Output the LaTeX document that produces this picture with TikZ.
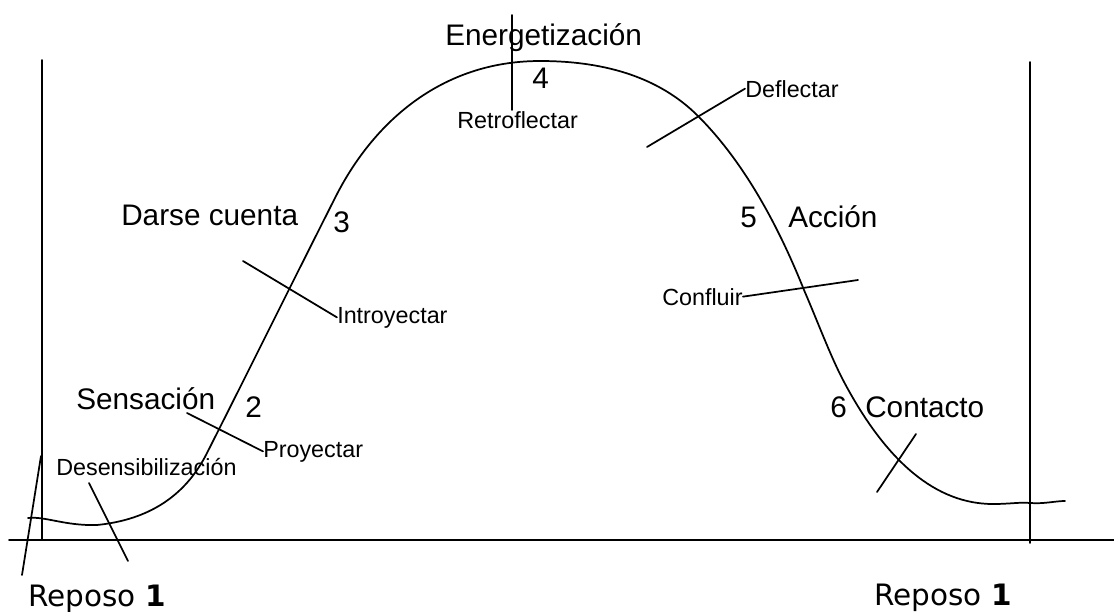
\documentclass[tikz,border=0pt]{standalone}
\usepackage{fontspec}
\setmainfont{Liberation Sans}
\newfontfamily\vfont{DejaVu Sans}
\begin{document}
\begin{tikzpicture}[x=0.75pt,y=-0.75pt,
  ln/.style={line width=1.3pt, line cap=round, line join=round},
  big/.style={anchor=base west, inner sep=0pt, font=\fontsize{22.3}{26}\selectfont},
  small/.style={anchor=base west, inner sep=0pt, font=\fontsize{17.5}{21}\selectfont},
  rep/.style={anchor=base west, inner sep=0pt, font=\vfont\fontsize{22.1}{26}\selectfont}]
\useasboundingbox (0,0) rectangle (1114,611);
% axes and frame lines
\coordinate (ax1) at (9,540);
\coordinate (ax2) at (1114,540);
\coordinate (lv1) at (42,60);
\coordinate (lv2) at (42,540);
\coordinate (rv1) at (1030,62);
\coordinate (rv2) at (1030,543);
\draw[ln] (ax1) -- (ax2);
\draw[ln] (lv1) -- (lv2);
\draw[ln] (rv1) -- (rv2);
% curve
\draw[ln] (28,518)
  .. controls (45,516) and (65,526) .. (97,525)
  .. controls (148.9,519.8) and (185.6,495.8) .. (207,453)
  .. controls (250,368) and (292,283) .. (335,198)
  .. controls (372,124) and (440,61) .. (540,61)
  .. controls (608.7,61) and (661.3,79.3) .. (698,116)
  .. controls (738.5,156.5) and (773.8,214.5) .. (804,290)
  .. controls (817,320) and (830,355) .. (843,380)
  .. controls (886.5,462.7) and (936.5,504) .. (993,504)
  .. controls (1010,504) and (1020,502) .. (1030,503)
  .. controls (1045,504) and (1055,501) .. (1065,501);
% labels
\node[big] (ener) at (445,45) {Energetización};
\node[big] (n4) at (532,88) {4};
\node[small] (retro) at (457,128) {Retroflectar};
\node[small] (defl) at (745,97) {Deflectar};
\node[big] (n5) at (740,227) {5};
\node[big] (acc) at (788,227) {Acción};
\node[small] (conf) at (662,305) {Confluir};
\node[big] (n6) at (830,417) {6};
\node[big] (cont) at (865,417) {Contacto};
\node[big] (darse) at (121,225) {Darse cuenta};
\node[big] (n3) at (333,232) {3};
\node[small] (intro) at (337,323) {Introyectar};
\node[big] (sens) at (76,409) {Sensación};
\node[big] (n2) at (245,417) {2};
\node[small] (proy) at (263,457) {Proyectar};
\node[small] (desen) at (56,475) {Desensibilización};
\node[rep] (rep1) at (28,606) {Reposo \textbf{1}};
\node[rep] (rep2) at (874,605) {Reposo \textbf{1}};
% tick lines
\coordinate (rt1) at (512,15);
\coordinate (rt2) at (512,110);
\draw[ln] (rt1) -- (rt2);
\coordinate (sl1) at (41,456);
\coordinate (sl2) at (22,575);
\draw[ln] (sl1) -- (sl2);
\coordinate (de1) at (89,483);
\coordinate (de2) at (128,561);
\draw[ln] (de1) -- (de2);
\coordinate (pr1) at (187,413);
\draw[ln] (pr1) -- (proy.west);
\coordinate (in1) at (243,261);
\draw[ln] (in1) -- (intro.west);
\coordinate (df1) at (647,147);
\draw[ln] (df1) -- (defl.west);
\coordinate (cf2) at (858,280);
\draw[ln] (conf.east) -- (cf2);
\coordinate (ct1) at (877,492);
\coordinate (ct2) at (916,434);
\draw[ln] (ct1) -- (ct2);
\end{tikzpicture}
\end{document}
